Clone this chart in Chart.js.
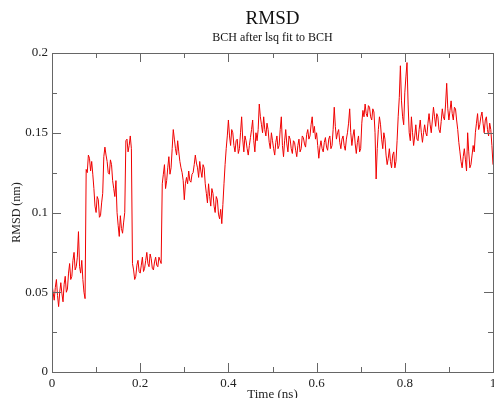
<!DOCTYPE html>
<html>
<head>
<meta charset="utf-8">
<script src="https://cdn.jsdelivr.net/npm/chart.js@4.4.1/dist/chart.umd.min.js"></script>
<style>
  html, body { margin: 0; padding: 0; background: #fff; }
  #wrap { width: 494px; height: 398px; }
</style>
</head>
<body>
<div id="wrap"><canvas id="rmsdChart"></canvas></div>
<script>
// time (ns)
const times = [
  0, 0.0025, 0.005, 0.0075, 0.01, 0.0125, 0.015, 0.0175, 0.02, 0.0225, 0.025, 0.0275, 0.03, 0.0325, 0.035, 0.0375, 0.04, 0.0425, 0.045, 0.0475,
  0.05, 0.0525, 0.055, 0.0575, 0.06, 0.0625, 0.065, 0.0675, 0.07, 0.0725, 0.075, 0.0775, 0.08, 0.0825, 0.085, 0.0875, 0.09, 0.0925, 0.095, 0.0975,
  0.1, 0.1025, 0.105, 0.1075, 0.11, 0.1125, 0.115, 0.1175, 0.12, 0.1225, 0.125, 0.1275, 0.13, 0.1325, 0.135, 0.1375, 0.14, 0.1425, 0.145, 0.1475,
  0.15, 0.1525, 0.155, 0.1575, 0.16, 0.1625, 0.165, 0.1675, 0.17, 0.1725, 0.175, 0.1775, 0.18, 0.1825, 0.185, 0.1875, 0.19, 0.1925, 0.195, 0.1975,
  0.2, 0.2025, 0.205, 0.2075, 0.21, 0.2125, 0.215, 0.2175, 0.22, 0.2225, 0.225, 0.2275, 0.23, 0.2325, 0.235, 0.2375, 0.24, 0.2425, 0.245, 0.2475,
  0.25, 0.2525, 0.255, 0.2575, 0.26, 0.2625, 0.265, 0.2675, 0.27, 0.2725, 0.275, 0.2775, 0.28, 0.2825, 0.285, 0.2875, 0.29, 0.2925, 0.295, 0.2975,
  0.3, 0.3025, 0.305, 0.3075, 0.31, 0.3125, 0.315, 0.3175, 0.32, 0.3225, 0.325, 0.3275, 0.33, 0.3325, 0.335, 0.3375, 0.34, 0.3425, 0.345, 0.3475,
  0.35, 0.3525, 0.355, 0.3575, 0.36, 0.3625, 0.365, 0.3675, 0.37, 0.3725, 0.375, 0.3775, 0.38, 0.3825, 0.385, 0.3875, 0.39, 0.3925, 0.395, 0.3975,
  0.4, 0.4025, 0.405, 0.4075, 0.41, 0.4125, 0.415, 0.4175, 0.42, 0.4225, 0.425, 0.4275, 0.43, 0.4325, 0.435, 0.4375, 0.44, 0.4425, 0.445, 0.4475,
  0.45, 0.4525, 0.455, 0.4575, 0.46, 0.4625, 0.465, 0.4675, 0.47, 0.4725, 0.475, 0.4775, 0.48, 0.4825, 0.485, 0.4875, 0.49, 0.4925, 0.495, 0.4975,
  0.5, 0.5025, 0.505, 0.5075, 0.51, 0.5125, 0.515, 0.5175, 0.52, 0.5225, 0.525, 0.5275, 0.53, 0.5325, 0.535, 0.5375, 0.54, 0.5425, 0.545, 0.5475,
  0.55, 0.5525, 0.555, 0.5575, 0.56, 0.5625, 0.565, 0.5675, 0.57, 0.5725, 0.575, 0.5775, 0.58, 0.5825, 0.585, 0.5875, 0.59, 0.5925, 0.595, 0.5975,
  0.6, 0.6025, 0.605, 0.6075, 0.61, 0.6125, 0.615, 0.6175, 0.62, 0.6225, 0.625, 0.6275, 0.63, 0.6325, 0.635, 0.6375, 0.64, 0.6425, 0.645, 0.6475,
  0.65, 0.6525, 0.655, 0.6575, 0.66, 0.6625, 0.665, 0.6675, 0.67, 0.6725, 0.675, 0.6775, 0.68, 0.6825, 0.685, 0.6875, 0.69, 0.6925, 0.695, 0.6975,
  0.7, 0.7025, 0.705, 0.7075, 0.71, 0.7125, 0.715, 0.7175, 0.72, 0.7225, 0.725, 0.7275, 0.73, 0.7325, 0.735, 0.7375, 0.74, 0.7425, 0.745, 0.7475,
  0.75, 0.7525, 0.755, 0.7575, 0.76, 0.7625, 0.765, 0.7675, 0.77, 0.7725, 0.775, 0.7775, 0.78, 0.7825, 0.785, 0.7875, 0.79, 0.7925, 0.795, 0.7975,
  0.8, 0.8025, 0.805, 0.8075, 0.81, 0.8125, 0.815, 0.8175, 0.82, 0.8225, 0.825, 0.8275, 0.83, 0.8325, 0.835, 0.8375, 0.84, 0.8425, 0.845, 0.8475,
  0.85, 0.8525, 0.855, 0.8575, 0.86, 0.8625, 0.865, 0.8675, 0.87, 0.8725, 0.875, 0.8775, 0.88, 0.8825, 0.885, 0.8875, 0.89, 0.8925, 0.895, 0.8975,
  0.9, 0.9025, 0.905, 0.9075, 0.91, 0.9125, 0.915, 0.9175, 0.92, 0.9225, 0.925, 0.9275, 0.93, 0.9325, 0.935, 0.9375, 0.94, 0.9425, 0.945, 0.9475,
  0.95, 0.9525, 0.955, 0.9575, 0.96, 0.9625, 0.965, 0.9675, 0.97, 0.9725, 0.975, 0.9775, 0.98, 0.9825, 0.985, 0.9875, 0.99, 0.9925, 0.995, 0.9975,
  1
];

// RMSD (nm)
const rmsd = [
  0.055, 0.050, 0.045, 0.053, 0.058, 0.048, 0.041, 0.050, 0.056, 0.049, 0.044, 0.055, 0.060, 0.050, 0.052, 0.062, 0.068, 0.058, 0.060, 0.070,
  0.075, 0.064, 0.066, 0.072, 0.088, 0.066, 0.062, 0.070, 0.058, 0.050, 0.046, 0.127, 0.125, 0.136, 0.134, 0.126, 0.132, 0.124, 0.115, 0.104,
  0.100, 0.110, 0.108, 0.097, 0.098, 0.106, 0.112, 0.135, 0.141, 0.136, 0.132, 0.125, 0.124, 0.133, 0.130, 0.120, 0.115, 0.110, 0.120, 0.100,
  0.092, 0.085, 0.098, 0.090, 0.087, 0.094, 0.100, 0.145, 0.146, 0.138, 0.142, 0.148, 0.140, 0.068, 0.064, 0.058, 0.060, 0.067, 0.070, 0.063,
  0.062, 0.067, 0.072, 0.063, 0.065, 0.070, 0.075, 0.068, 0.066, 0.074, 0.071, 0.065, 0.064, 0.069, 0.072, 0.067, 0.066, 0.072, 0.070, 0.068,
  0.118, 0.124, 0.130, 0.115, 0.120, 0.128, 0.135, 0.124, 0.128, 0.140, 0.152, 0.146, 0.140, 0.136, 0.145, 0.138, 0.132, 0.128, 0.125, 0.120,
  0.108, 0.118, 0.122, 0.118, 0.126, 0.120, 0.119, 0.124, 0.125, 0.130, 0.136, 0.131, 0.128, 0.122, 0.132, 0.126, 0.122, 0.130, 0.128, 0.118,
  0.112, 0.106, 0.118, 0.110, 0.104, 0.115, 0.112, 0.104, 0.100, 0.110, 0.108, 0.099, 0.096, 0.102, 0.093, 0.105, 0.118, 0.130, 0.140, 0.148,
  0.158, 0.148, 0.142, 0.152, 0.150, 0.142, 0.138, 0.145, 0.146, 0.137, 0.140, 0.150, 0.160, 0.146, 0.138, 0.148, 0.145, 0.140, 0.136, 0.142,
  0.147, 0.152, 0.158, 0.145, 0.138, 0.150, 0.145, 0.152, 0.168, 0.160, 0.155, 0.150, 0.160, 0.152, 0.148, 0.156, 0.152, 0.144, 0.140, 0.150,
  0.145, 0.140, 0.136, 0.144, 0.148, 0.140, 0.142, 0.152, 0.160, 0.142, 0.135, 0.145, 0.152, 0.143, 0.138, 0.148, 0.146, 0.140, 0.137, 0.145,
  0.144, 0.139, 0.135, 0.142, 0.146, 0.138, 0.140, 0.148, 0.147, 0.143, 0.141, 0.149, 0.152, 0.146, 0.148, 0.155, 0.160, 0.150, 0.154, 0.146,
  0.150, 0.142, 0.134, 0.141, 0.145, 0.140, 0.138, 0.144, 0.147, 0.141, 0.139, 0.146, 0.148, 0.140, 0.142, 0.152, 0.166, 0.154, 0.146, 0.150,
  0.152, 0.144, 0.140, 0.146, 0.148, 0.142, 0.139, 0.146, 0.150, 0.156, 0.165, 0.150, 0.142, 0.148, 0.152, 0.143, 0.137, 0.144, 0.148, 0.138,
  0.140, 0.156, 0.164, 0.160, 0.168, 0.162, 0.160, 0.167, 0.166, 0.160, 0.158, 0.165, 0.163, 0.150, 0.121, 0.140, 0.152, 0.160, 0.155, 0.146,
  0.140, 0.150, 0.146, 0.136, 0.130, 0.134, 0.140, 0.132, 0.128, 0.136, 0.138, 0.128, 0.132, 0.145, 0.160, 0.172, 0.192, 0.170, 0.160, 0.155,
  0.175, 0.185, 0.194, 0.168, 0.150, 0.145, 0.160, 0.150, 0.142, 0.148, 0.155, 0.146, 0.145, 0.152, 0.158, 0.150, 0.144, 0.150, 0.155, 0.150,
  0.148, 0.156, 0.162, 0.155, 0.150, 0.158, 0.166, 0.160, 0.154, 0.162, 0.160, 0.152, 0.150, 0.157, 0.165, 0.160, 0.158, 0.168, 0.181, 0.165,
  0.158, 0.164, 0.170, 0.162, 0.158, 0.166, 0.165, 0.158, 0.152, 0.144, 0.138, 0.132, 0.128, 0.135, 0.140, 0.133, 0.126, 0.150, 0.138, 0.128,
  0.130, 0.136, 0.142, 0.138, 0.150, 0.156, 0.162, 0.152, 0.155, 0.160, 0.163, 0.156, 0.150, 0.158, 0.160, 0.152, 0.148, 0.156, 0.152, 0.142,
  0.130
];

// axis ticks (inward, xmgrace style)
const xMajorTicks = [0, 0.2, 0.4, 0.6, 0.8, 1];
const xMinorTicks = [0.1, 0.3, 0.5, 0.7, 0.9];
const yMajorTicks = [0, 0.05, 0.1, 0.15, 0.2];
const yMinorTicks = [0.025, 0.075, 0.125, 0.175];

const serif = 'Liberation Serif';
const frameColor = '#666';

const points = times.map((t, i) => ({ x: t, y: rmsd[i] }));
const fmt = v => String(Math.round(v * 1000) / 1000);

const innerTicks = {
    id: 'innerTicks',
    afterDraw(chart) {
        const { ctx, chartArea: a, scales: { x, y } } = chart;
        ctx.save();
        ctx.strokeStyle = frameColor;
        ctx.lineWidth = 1;
        ctx.strokeRect(Math.round(a.left) + 0.5, Math.round(a.top) + 0.5,
            Math.round(a.right - a.left), Math.round(a.bottom - a.top));
        ctx.beginPath();
        const xt = (v, len) => {
            const px = Math.round(x.getPixelForValue(v)) + 0.5;
            ctx.moveTo(px, a.bottom); ctx.lineTo(px, a.bottom - len);
            ctx.moveTo(px, a.top); ctx.lineTo(px, a.top + len);
        };
        const yt = (v, len) => {
            const py = Math.round(y.getPixelForValue(v)) + 0.5;
            ctx.moveTo(a.left, py); ctx.lineTo(a.left + len, py);
            ctx.moveTo(a.right, py); ctx.lineTo(a.right - len, py);
        };
        xMajorTicks.forEach(v => xt(v, 9));
        xMinorTicks.forEach(v => xt(v, 5));
        yMajorTicks.forEach(v => yt(v, 9));
        yMinorTicks.forEach(v => yt(v, 5));
        ctx.stroke();
        ctx.restore();
    }
};

const rmsdChart = new Chart(document.getElementById('rmsdChart').getContext('2d'), {
    type: 'line',
    data: {
        datasets: [{
            label: 'RMSD',
            data: points,
            borderColor: 'rgb(240, 0, 0)',
            borderWidth: 1,
            pointRadius: 0,
            tension: 0,
            fill: false
        }]
    },
    options: {
        responsive: true,
        maintainAspectRatio: false,
        animation: false,
        layout: { padding: { top: 0, left: 0, right: 1, bottom: 0 } },
        plugins: {
            legend: { display: false },
            tooltip: { enabled: false },
            title: {
                display: true,
                text: 'RMSD',
                fullSize: false,
                color: '#111',
                font: { family: serif, size: 19, weight: 'normal' },
                padding: { top: 7.5, bottom: 0 }
            },
            subtitle: {
                display: true,
                text: 'BCH after lsq fit to BCH',
                fullSize: false,
                color: '#111',
                font: { family: serif, size: 12, weight: 'normal' },
                padding: { top: 0, bottom: 8.3 }
            }
        },
        scales: {
            x: {
                type: 'linear',
                min: 0,
                max: 1,
                grid: { display: false, drawTicks: false },
                border: { display: false },
                ticks: {
                    stepSize: 0.2,
                    color: '#222',
                    padding: 4,
                    maxRotation: 0,
                    font: { family: serif, size: 13 },
                    callback: fmt
                },
                title: {
                    display: true,
                    text: 'Time (ns)',
                    color: '#222',
                    padding: 0,
                    font: { family: serif, size: 13, lineHeight: 0.5 }
                },
                afterFit(s) { s.height = 26; s.paddingLeft = 0; s.paddingRight = 0; }
            },
            y: {
                min: 0,
                max: 0.2,
                grid: { display: false, drawTicks: false },
                border: { display: false },
                ticks: {
                    stepSize: 0.05,
                    color: '#222',
                    padding: 4,
                    font: { family: serif, size: 13 },
                    callback: fmt
                },
                title: {
                    display: true,
                    text: 'RMSD (nm)',
                    color: '#222',
                    padding: { top: 10, bottom: 0 },
                    font: { family: serif, size: 12 }
                },
                afterFit(s) { s.width = 52; s.paddingTop = 0; s.paddingBottom = 0; }
            }
        }
    },
    plugins: [innerTicks]
});
</script>
</body>
</html>
